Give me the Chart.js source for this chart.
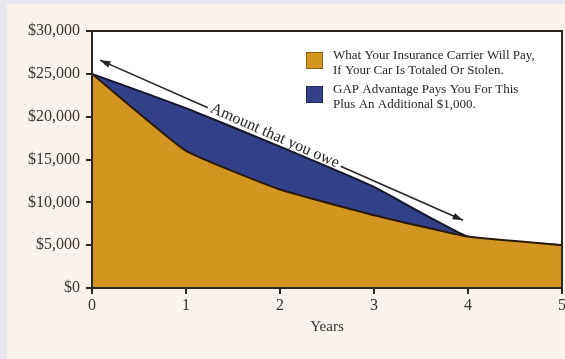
<html lang="en">
<head>
  <meta charset="utf-8" />
  <title>GAP Advantage</title>
  <style>
    * { margin: 0; padding: 0; box-sizing: border-box; }
    body { width: 565px; height: 359px; background: #e6e6ef; overflow: hidden; }
    .panel {
      position: absolute; left: 7px; top: 4px; right: 0; bottom: 0;
      background: #faf3eb;
    }
    #chart { position: absolute; left: 0; top: 0; }
  </style>
</head>
<body>
  <div class="panel"></div>
  <canvas id="chart" width="565" height="359"></canvas>
  <script src="https://cdn.jsdelivr.net/npm/chart.js@4"></script>
  <script>
    const years = ["0", "1", "2", "3", "4", "5"];
    const carrierPays = [25000, 16000, 11500, 8500, 6000, 5000];
    const amountOwed = [25000, 21000, 16500, 11800, 6000, 5000];
    const yTicks = [0, 5000, 10000, 15000, 20000, 25000, 30000];
    const legendCarrier = ["What Your Insurance Carrier Will Pay,", "If Your Car Is Totaled Or Stolen."];
    const legendGap = ["GAP Advantage Pays You For This", "Plus An Additional $1,000."];
    const arrowLabel = "Amount that you owe";
    const arrowFrom = { x: 0.085, y: 26600 };
    const arrowTo = { x: 3.947, y: 7900 };

    const gold = "#d3951f";
    const blue = "#33408a";
    const ink = "#2b2622";
    const serif = "'Liberation Serif', 'DejaVu Serif', serif";

    // white plot box + frame
    const plotBox = {
      id: "plotBox",
      beforeDraw(chart) {
        const { ctx, chartArea: a } = chart;
        ctx.save();
        ctx.fillStyle = "#ffffff";
        ctx.fillRect(a.left, a.top, a.right - a.left, a.bottom - a.top);
        ctx.restore();
      },
      afterDraw(chart) {
        const { ctx, chartArea: a } = chart;
        ctx.save();
        ctx.strokeStyle = ink;
        ctx.lineWidth = 2;
        ctx.strokeRect(a.left, a.top, a.right - a.left, a.bottom - a.top);
        ctx.restore();
      }
    };

    function arrowHead(ctx, x, y, ang) {
      ctx.beginPath();
      ctx.moveTo(x, y);
      ctx.lineTo(x - 11 * Math.cos(ang - 0.32), y - 11 * Math.sin(ang - 0.32));
      ctx.lineTo(x - 11 * Math.cos(ang + 0.32), y - 11 * Math.sin(ang + 0.32));
      ctx.closePath();
      ctx.fill();
    }

    // legend and the "amount that you owe" arrow
    const notes = {
      id: "notes",
      afterDraw(chart) {
        const { ctx, scales } = chart;
        const x0 = scales.x.getPixelForValue(arrowFrom.x);
        const y0 = scales.y.getPixelForValue(arrowFrom.y);
        const x1 = scales.x.getPixelForValue(arrowTo.x);
        const y1 = scales.y.getPixelForValue(arrowTo.y);
        const ang = Math.atan2(y1 - y0, x1 - x0);
        const len = Math.hypot(x1 - x0, y1 - y0);
        ctx.save();
        ctx.font = "16px " + serif;
        const tw = Math.min(ctx.measureText(arrowLabel).width, 150);
        const mid = len * 0.48;
        const g1 = mid - tw / 2 - 3, g2 = mid + tw / 2 + 3;
        const cos = Math.cos(ang), sin = Math.sin(ang);
        ctx.strokeStyle = ink;
        ctx.fillStyle = ink;
        ctx.lineWidth = 1.6;
        ctx.beginPath();
        ctx.moveTo(x0, y0);
        ctx.lineTo(x0 + g1 * cos, y0 + g1 * sin);
        ctx.moveTo(x0 + g2 * cos, y0 + g2 * sin);
        ctx.lineTo(x1, y1);
        ctx.stroke();
        arrowHead(ctx, x0, y0, ang + Math.PI);
        arrowHead(ctx, x1, y1, ang);
        ctx.translate(x0 + mid * cos, y0 + mid * sin);
        ctx.rotate(ang);
        ctx.textAlign = "center";
        ctx.textBaseline = "alphabetic";
        ctx.fillText(arrowLabel, 0, 3, 150);
        ctx.restore();

        // legend
        ctx.save();
        const items = [[gold, legendCarrier, 52], [blue, legendGap, 86]];
        ctx.font = "13px " + serif;
        ctx.textBaseline = "middle";
        for (const [c, lines, top] of items) {
          ctx.fillStyle = c;
          ctx.fillRect(306, top, 17, 17);
          ctx.strokeStyle = "rgba(0,0,0,0.35)";
          ctx.lineWidth = 1;
          ctx.strokeRect(306.5, top + 0.5, 16, 16);
          ctx.fillStyle = ink;
          ctx.fillText(lines[0], 333, top + 4, 211);
          ctx.fillText(lines[1], 333, top + 19, 211);
        }
        ctx.restore();
      }
    };

    new Chart(document.getElementById("chart"), {
      type: "line",
      data: {
        labels: years,
        datasets: [
          {
            label: "What Your Insurance Carrier Will Pay",
            data: carrierPays,
            backgroundColor: gold,
            borderColor: "#2a1a0a",
            borderWidth: 2,
            fill: "origin",
            pointRadius: 0,
            tension: 0.12
          },
          {
            label: "GAP Advantage Pays You For This",
            data: amountOwed,
            backgroundColor: blue,
            borderColor: "#15152a",
            borderWidth: 2,
            fill: "origin",
            pointRadius: 0,
            tension: 0.12
          }
        ]
      },
      options: {
        responsive: false,
        animation: false,
        layout: { padding: { left: 0, right: 3, top: 31, bottom: 21 } },
        plugins: { legend: { display: false }, tooltip: { enabled: false } },
        scales: {
          x: {
            type: "category",
            offset: false,
            grid: { drawOnChartArea: false, color: ink, tickLength: 6, lineWidth: 2 },
            border: { display: false },
            ticks: { color: "#3a3330", font: { family: serif, size: 16 }, padding: 2, maxRotation: 0 },
            title: { display: true, text: "Years", color: "#3a3330", font: { family: serif, size: 15 }, padding: { top: 2, bottom: 2 } },
            afterFit(scale) { scale.height = 50; scale.paddingRight = 0; }
          },
          y: {
            min: 0,
            max: 30000,
            afterBuildTicks(scale) { scale.ticks = yTicks.map(v => ({ value: v })); },
            grid: { drawOnChartArea: false, color: ink, tickLength: 6, lineWidth: 2 },
            border: { display: false },
            ticks: {
              color: "#3a3330",
              font: { family: serif, size: 16 },
              padding: 6,
              callback: v => "$" + v.toLocaleString("en-US")
            },
            afterFit(scale) { scale.width = 92; }
          }
        }
      },
      plugins: [plotBox, notes]
    });
  </script>
</body>
</html>
